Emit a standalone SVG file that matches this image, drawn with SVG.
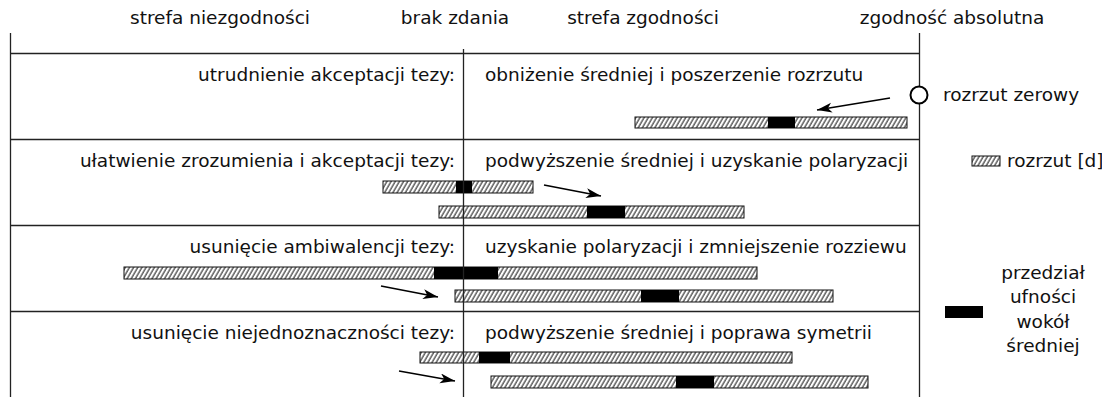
<svg xmlns="http://www.w3.org/2000/svg" width="1102" height="397" viewBox="0 0 1102 397">
<style>
text{font-family:"DejaVu Sans","Liberation Sans",sans-serif;font-size:18.5px;fill:#111}
.r{text-anchor:end}
.m{text-anchor:middle}
.frame{stroke:#222;stroke-width:1.3;fill:none}
.bar{fill:url(#hatch);stroke:#111;stroke-width:1}
.ci{fill:#000}
.arr{stroke:#000;stroke-width:1.6;fill:none;marker-end:url(#ah)}
</style>
<defs>
<pattern id="hatch" patternUnits="userSpaceOnUse" width="3.6" height="12" patternTransform="rotate(30)">
<rect width="3.6" height="12" fill="#fff"/>
<line x1="1" y1="0" x2="1" y2="12" stroke="#222" stroke-width="1.1"/>
</pattern>
<marker id="ah" markerUnits="userSpaceOnUse" markerWidth="16" markerHeight="12" refX="15" refY="5" orient="auto">
<path d="M0,0 L15,5 L0,10 L4,5 z" fill="#000"/>
</marker>
</defs>
<g id="header">
<text x="220" y="24" class="m">strefa niezgodności</text>
<text x="455" y="24" class="m">brak zdania</text>
<text x="643" y="24" class="m">strefa zgodności</text>
<text x="952" y="24" class="m">zgodność absolutna</text>
</g>
<g id="row1">
<text x="455" y="81" class="r">utrudnienie akceptacji tezy:</text>
<text x="485" y="81">obniżenie średniej i poszerzenie rozrzutu</text>
<rect class="bar" x="635" y="117" width="272" height="11"/>
<rect class="ci" x="768" y="117" width="27" height="11"/>
</g>
<g id="row2">
<text x="455" y="167" class="r">ułatwienie zrozumienia i akceptacji tezy:</text>
<text x="485" y="167">podwyższenie średniej i uzyskanie polaryzacji</text>
<rect class="bar" x="383" y="181" width="150" height="12"/>
<rect class="ci" x="456" y="181" width="16" height="12"/>
<rect class="bar" x="439" y="206" width="305" height="12"/>
<rect class="ci" x="587" y="206" width="38" height="12"/>
</g>
<g id="row3">
<text x="455" y="253" class="r">usunięcie ambiwalencji tezy:</text>
<text x="485" y="253">uzyskanie polaryzacji i zmniejszenie rozziewu</text>
<rect class="bar" x="124" y="267" width="633" height="12"/>
<rect class="ci" x="434" y="267" width="64" height="12"/>
<rect class="bar" x="455" y="290" width="378" height="12"/>
<rect class="ci" x="641" y="290" width="38" height="12"/>
</g>
<g id="row4">
<text x="455" y="339" class="r">usunięcie niejednoznaczności tezy:</text>
<text x="485" y="339">podwyższenie średniej i poprawa symetrii</text>
<rect class="bar" x="420" y="352" width="372" height="11"/>
<rect class="ci" x="479" y="352" width="31" height="11"/>
<rect class="bar" x="491" y="376" width="377" height="12"/>
<rect class="ci" x="676" y="376" width="38" height="12"/>
</g>
<g id="frame">
<line class="frame" x1="10.5" y1="33" x2="10.5" y2="397"/>
<line class="frame" x1="463.5" y1="49" x2="463.5" y2="397"/>
<line class="frame" x1="919.5" y1="33" x2="919.5" y2="397"/>
<line class="frame" x1="10" y1="53.5" x2="919" y2="53.5"/>
<line class="frame" x1="10" y1="139.5" x2="919" y2="139.5"/>
<line class="frame" x1="10" y1="225.5" x2="919" y2="225.5"/>
<line class="frame" x1="10" y1="311.5" x2="919" y2="311.5"/>
</g>
<g id="connectors">
<line class="arr" x1="890" y1="98" x2="817" y2="110"/>
<line class="arr" x1="544" y1="185" x2="601" y2="196"/>
<line class="arr" x1="381" y1="286" x2="438" y2="297"/>
<line class="arr" x1="399" y1="371" x2="455" y2="381"/>
</g>
<g id="zero-node">
<circle cx="919" cy="95" r="8.5" fill="#fff" stroke="#000" stroke-width="2"/>
<text x="943" y="101">rozrzut zerowy</text>
</g>
<g id="legend">
<rect class="bar" x="972" y="156" width="28" height="10"/>
<text x="1007" y="167">rozrzut [d]</text>
<rect class="ci" x="945" y="306" width="38" height="12"/>
<text x="1043" y="279" class="m">przedział</text>
<text x="1043" y="303" class="m">ufności</text>
<text x="1043" y="328" class="m">wokół</text>
<text x="1043" y="352" class="m">średniej</text>
</g>
</svg>
